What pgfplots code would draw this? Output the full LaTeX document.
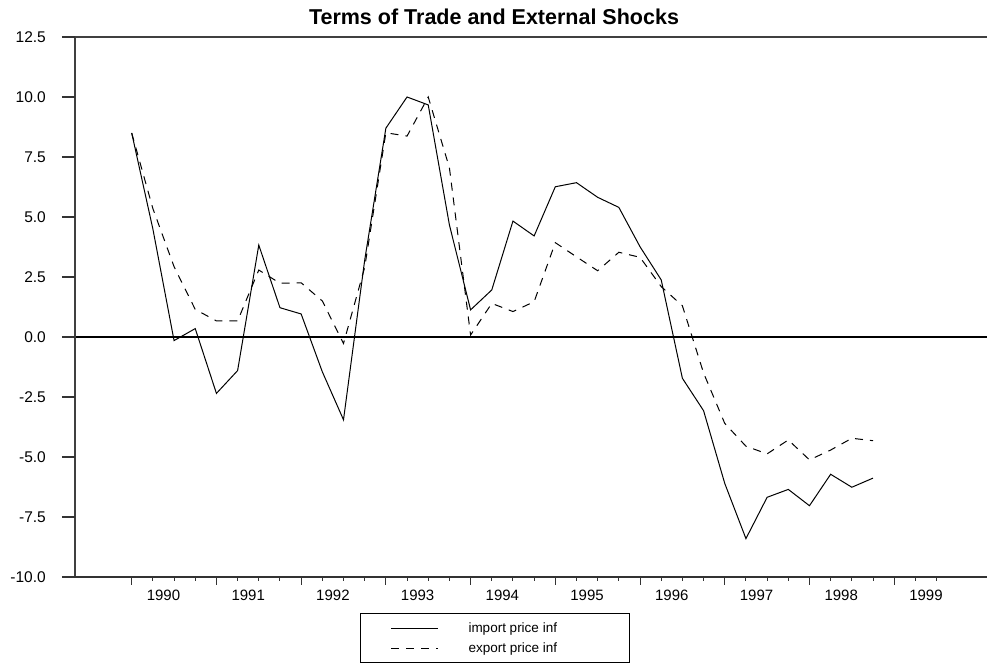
\documentclass[border=0pt]{standalone}
\usepackage{fontspec}
\setmainfont{Liberation Sans}
\usepackage{pgfplots}
\pgfplotsset{compat=1.18}
\usepackage{pgfplotstable}

\pgfplotstableread{
i imp exp
0 8.50 8.50
1 4.50 5.35
2 -0.15 2.93
3 0.35 1.15
4 -2.35 0.67
5 -1.40 0.67
6 3.83 2.79
7 1.22 2.24
8 0.96 2.26
9 -1.45 1.50
10 -3.45 -0.27
11 3.20 2.90
12 8.70 8.51
13 10.00 8.37
14 9.67 10.00
15 4.67 7.05
16 1.13 0.08
17 1.96 1.40
18 4.83 1.06
19 4.21 1.47
20 6.26 3.93
21 6.43 3.34
22 5.82 2.76
23 5.40 3.53
24 3.76 3.32
25 2.38 2.10
26 -1.72 1.30
27 -3.07 -1.50
28 -6.10 -3.60
29 -8.40 -4.55
30 -6.68 -4.87
31 -6.35 -4.29
32 -7.03 -5.12
33 -5.72 -4.71
34 -6.26 -4.22
35 -5.88 -4.32
}\datatable

\begin{document}
\begin{tikzpicture}
\useasboundingbox (0,0) rectangle (987bp,664bp);
\node[font=\bfseries\fontsize{21.5bp}{24bp}\selectfont] at (494bp,647bp) {Terms of Trade and External Shocks};
% main axis: data, x ticks, legend
\begin{axis}[
  at={(75bp,87bp)}, anchor=south west,
  scale only axis, width=912bp, height=540bp,
  xmin=-2.677, xmax=40.382, ymin=-10, ymax=12.5,
  axis line style={draw=none},
  clip=false,
  tick align=outside,
  xtick pos=left,
  xtick={0,4,...,36},
  xticklabels={},
  minor xtick={1,2,3,5,6,7,9,10,11,13,14,15,17,18,19,21,22,23,25,26,27,29,30,31,33,34,35,37,38},
  major tick length=7.5bp, minor tick length=3.5bp,
  tick style={black!80, line width=1bp},
  ytick=\empty,
  extra x ticks={1.5,5.5,9.5,13.5,17.5,21.5,25.5,29.5,33.5,37.5},
  extra x tick labels={1990,1991,1992,1993,1994,1995,1996,1997,1998,1999},
  extra x tick style={major tick length=0pt, tick style={draw=none},
     xticklabel style={font=\fontsize{15bp}{18bp}\selectfont, anchor=north, inner sep=0pt, yshift=-12.5bp}},
  legend style={at={(0.3125,-0.0667)}, anchor=north west, draw=black, line width=1bp,
     fill=white, inner xsep=30bp, inner ysep=4.5bp, column sep=30bp, row sep=0bp,
     font=\fontsize{13.5bp}{16bp}\selectfont,
     nodes={inner sep=0pt, minimum height=20bp}},
  legend cell align=left,
  legend image code/.code={\draw[#1] (0bp,0bp) -- (47bp,0bp);},
]
\draw[black, line width=1.2bp] (axis cs:-2.677,0) -- (axis cs:40.382,0);
\draw[black!75, line width=1.3bp] (rel axis cs:0,0) -- (rel axis cs:0,1);
\draw[black!75, line width=1.3bp] (rel axis cs:0,1) -- (rel axis cs:1,1);
\draw[black!80, line width=1.3bp] (rel axis cs:0,0) -- (rel axis cs:1,0);
\addplot[black, line width=1bp, mark=none] table[x=i, y=imp] {\datatable};
\addlegendentry{\makebox[131bp][l]{import price inf}}
\addplot[black, line width=1bp, mark=none, dash pattern=on 8bp off 7bp] table[x=i, y=exp] {\datatable};
\addlegendentry{\makebox[131bp][l]{export price inf}}
\end{axis}
% second axis: y ticks only
\begin{axis}[
  at={(75bp,87bp)}, anchor=south west,
  scale only axis, width=912bp, height=540bp,
  xmin=-2.677, xmax=40.382, ymin=-10, ymax=12.5,
  axis line style={draw=none},
  xtick=\empty,
  ytick={-10,-7.5,-5,-2.5,0,2.5,5,7.5,10,12.5},
  yticklabels={-10.0,-7.5,-5.0,-2.5,0.0,2.5,5.0,7.5,10.0,12.5},
  tick align=outside,
  ytick pos=left,
  major tick length=13bp,
  tick style={black!80, line width=1.2bp},
  yticklabel style={font=\fontsize{15.5bp}{18bp}\selectfont, anchor=east, inner sep=0pt, xshift=-16bp},
]
\end{axis}
\end{tikzpicture}
\end{document}
